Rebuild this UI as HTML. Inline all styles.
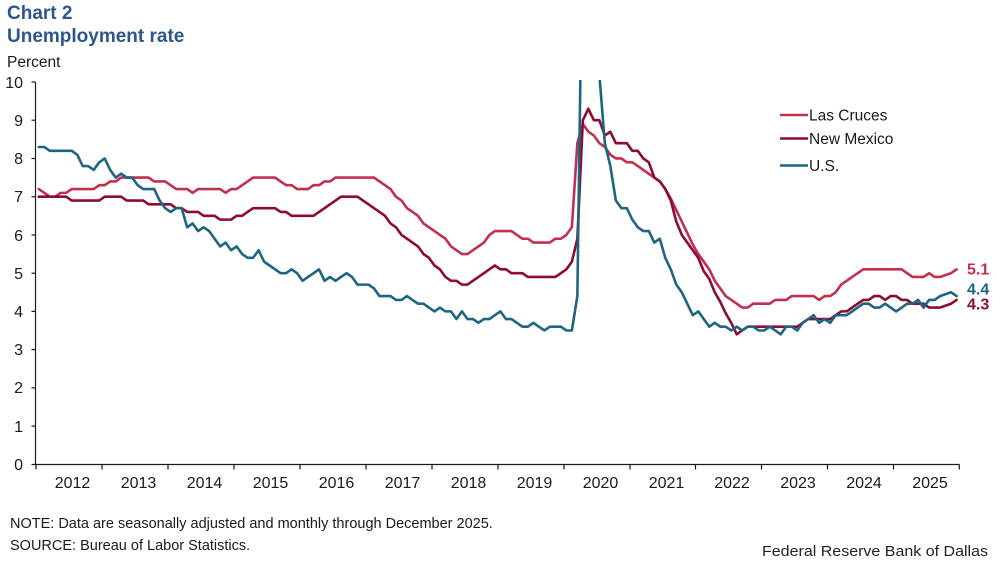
<!DOCTYPE html>
<html>
<head>
<meta charset="utf-8">
<style>
  html,body{margin:0;padding:0;background:#fff;}
  svg{display:block;}
  text{font-family:"Liberation Sans",Arial,sans-serif;}
</style>
</head>
<body>
<svg width="997" height="565" viewBox="0 0 997 565" xmlns="http://www.w3.org/2000/svg">
  <rect width="997" height="565" fill="#fff"/>
  <!-- Titles -->
  <text x="7" y="19" font-size="19" font-weight="bold" fill="#2d5789">Chart 2</text>
  <text x="7" y="42" font-size="19" font-weight="bold" fill="#2d5789">Unemployment rate</text>
  <text x="7" y="67" font-size="15.5" fill="#1a1a1a">Percent</text>

  <!-- Y axis labels -->
  <g font-size="16" fill="#1a1a1a" text-anchor="end">
    <text x="23" y="88">10</text>
    <text x="23" y="126">9</text>
    <text x="23" y="164">8</text>
    <text x="23" y="202">7</text>
    <text x="23" y="241">6</text>
    <text x="23" y="279">5</text>
    <text x="23" y="317">4</text>
    <text x="23" y="355">3</text>
    <text x="23" y="393">2</text>
    <text x="23" y="432">1</text>
    <text x="23" y="470">0</text>
  </g>

  <!-- Axes -->
  <g stroke="#1a1a1a" stroke-width="1.2" fill="none">
    <line x1="35.5" y1="82" x2="35.5" y2="464.5"/>
    <line x1="35.5" y1="464.5" x2="959.5" y2="464.5"/>
    <line x1="31.5" y1="82" x2="35.5" y2="82"/>
    <line x1="31.5" y1="120.2" x2="35.5" y2="120.2"/>
    <line x1="31.5" y1="158.5" x2="35.5" y2="158.5"/>
    <line x1="31.5" y1="196.7" x2="35.5" y2="196.7"/>
    <line x1="31.5" y1="235" x2="35.5" y2="235"/>
    <line x1="31.5" y1="273.2" x2="35.5" y2="273.2"/>
    <line x1="31.5" y1="311.4" x2="35.5" y2="311.4"/>
    <line x1="31.5" y1="349.6" x2="35.5" y2="349.6"/>
    <line x1="31.5" y1="387.8" x2="35.5" y2="387.8"/>
    <line x1="31.5" y1="426.1" x2="35.5" y2="426.1"/>
    <line x1="31.5" y1="464.5" x2="35.5" y2="464.5"/>
    <!-- x ticks -->
    <line x1="36" y1="464.5" x2="36" y2="469.5"/>
    <line x1="102" y1="464.5" x2="102" y2="469.5"/>
    <line x1="168" y1="464.5" x2="168" y2="469.5"/>
    <line x1="234" y1="464.5" x2="234" y2="469.5"/>
    <line x1="300" y1="464.5" x2="300" y2="469.5"/>
    <line x1="366" y1="464.5" x2="366" y2="469.5"/>
    <line x1="432" y1="464.5" x2="432" y2="469.5"/>
    <line x1="498" y1="464.5" x2="498" y2="469.5"/>
    <line x1="564" y1="464.5" x2="564" y2="469.5"/>
    <line x1="630" y1="464.5" x2="630" y2="469.5"/>
    <line x1="695.5" y1="464.5" x2="695.5" y2="469.5"/>
    <line x1="761.5" y1="464.5" x2="761.5" y2="469.5"/>
    <line x1="827.5" y1="464.5" x2="827.5" y2="469.5"/>
    <line x1="893.5" y1="464.5" x2="893.5" y2="469.5"/>
    <line x1="959.3" y1="464.5" x2="959.3" y2="469.5"/>
  </g>

  <!-- X labels -->
  <g font-size="16" fill="#1a1a1a" text-anchor="middle">
    <text x="72.5" y="488">2012</text>
    <text x="138.5" y="488">2013</text>
    <text x="204.5" y="488">2014</text>
    <text x="270.5" y="488">2015</text>
    <text x="336.5" y="488">2016</text>
    <text x="402.5" y="488">2017</text>
    <text x="468.5" y="488">2018</text>
    <text x="534.5" y="488">2019</text>
    <text x="600.5" y="488">2020</text>
    <text x="666.5" y="488">2021</text>
    <text x="732" y="488">2022</text>
    <text x="798" y="488">2023</text>
    <text x="864" y="488">2024</text>
    <text x="930" y="488">2025</text>
  </g>

  <defs>
    <clipPath id="plot">
      <rect x="30" y="80" width="940" height="390"/>
    </clipPath>
  </defs>

  <g clip-path="url(#plot)">
    <g transform="translate(36,464.3) scale(5.496,-38.23)" fill="none" stroke-linejoin="round" stroke-linecap="round">
      <!-- Las Cruces -->
      <polyline vector-effect="non-scaling-stroke" stroke="#c0304f" stroke-width="2.6" points="0.5,7.2 1.5,7.1 2.5,7 3.5,7 4.5,7.1 5.5,7.1 6.5,7.2 7.5,7.2 8.5,7.2 9.5,7.2 10.5,7.2 11.5,7.3 12.5,7.3 13.5,7.4 14.5,7.4 15.5,7.5 16.5,7.5 17.5,7.5 18.5,7.5 19.5,7.5 20.5,7.5 21.5,7.4 22.5,7.4 23.5,7.4 24.5,7.3 25.5,7.2 26.5,7.2 27.5,7.2 28.5,7.1 29.5,7.2 30.5,7.2 31.5,7.2 32.5,7.2 33.5,7.2 34.5,7.1 35.5,7.2 36.5,7.2 37.5,7.3 38.5,7.4 39.5,7.5 40.5,7.5 41.5,7.5 42.5,7.5 43.5,7.5 44.5,7.4 45.5,7.3 46.5,7.3 47.5,7.2 48.5,7.2 49.5,7.2 50.5,7.3 51.5,7.3 52.5,7.4 53.5,7.4 54.5,7.5 55.5,7.5 56.5,7.5 57.5,7.5 58.5,7.5 59.5,7.5 60.5,7.5 61.5,7.5 62.5,7.4 63.5,7.3 64.5,7.2 65.5,7 66.5,6.9 67.5,6.7 68.5,6.6 69.5,6.5 70.5,6.3 71.5,6.2 72.5,6.1 73.5,6 74.5,5.9 75.5,5.7 76.5,5.6 77.5,5.5 78.5,5.5 79.5,5.6 80.5,5.7 81.5,5.8 82.5,6 83.5,6.1 84.5,6.1 85.5,6.1 86.5,6.1 87.5,6 88.5,5.9 89.5,5.9 90.5,5.8 91.5,5.8 92.5,5.8 93.5,5.8 94.5,5.9 95.5,5.9 96.5,6 97.5,6.2 98.5,8.4 99.5,8.9 100.5,8.7 101.5,8.6 102.5,8.4 103.5,8.3 104.5,8.1 105.5,8 106.5,8 107.5,7.9 108.5,7.9 109.5,7.8 110.5,7.7 111.5,7.6 112.5,7.5 113.5,7.4 114.5,7.2 115.5,6.95 116.5,6.65 117.5,6.35 118.5,6.05 119.5,5.75 120.5,5.5 121.5,5.3 122.5,5.1 123.5,4.8 124.5,4.6 125.5,4.4 126.5,4.3 127.5,4.2 128.5,4.1 129.5,4.1 130.5,4.2 131.5,4.2 132.5,4.2 133.5,4.2 134.5,4.3 135.5,4.3 136.5,4.3 137.5,4.4 138.5,4.4 139.5,4.4 140.5,4.4 141.5,4.4 142.5,4.3 143.5,4.4 144.5,4.4 145.5,4.5 146.5,4.7 147.5,4.8 148.5,4.9 149.5,5 150.5,5.1 151.5,5.1 152.5,5.1 153.5,5.1 154.5,5.1 155.5,5.1 156.5,5.1 157.5,5.1 158.5,5 159.5,4.9 160.5,4.9 161.5,4.9 162.5,5 163.5,4.9 164.5,4.9 165.5,4.95 166.5,5 167.5,5.1"/>
      <!-- New Mexico -->
      <polyline vector-effect="non-scaling-stroke" stroke="#8b0d36" stroke-width="2.6" points="0.5,7 1.5,7 2.5,7 3.5,7 4.5,7 5.5,7 6.5,6.9 7.5,6.9 8.5,6.9 9.5,6.9 10.5,6.9 11.5,6.9 12.5,7 13.5,7 14.5,7 15.5,7 16.5,6.9 17.5,6.9 18.5,6.9 19.5,6.9 20.5,6.8 21.5,6.8 22.5,6.8 23.5,6.8 24.5,6.8 25.5,6.7 26.5,6.7 27.5,6.6 28.5,6.6 29.5,6.6 30.5,6.5 31.5,6.5 32.5,6.5 33.5,6.4 34.5,6.4 35.5,6.4 36.5,6.5 37.5,6.5 38.5,6.6 39.5,6.7 40.5,6.7 41.5,6.7 42.5,6.7 43.5,6.7 44.5,6.6 45.5,6.6 46.5,6.5 47.5,6.5 48.5,6.5 49.5,6.5 50.5,6.5 51.5,6.6 52.5,6.7 53.5,6.8 54.5,6.9 55.5,7 56.5,7 57.5,7 58.5,7 59.5,6.9 60.5,6.8 61.5,6.7 62.5,6.6 63.5,6.5 64.5,6.3 65.5,6.2 66.5,6 67.5,5.9 68.5,5.8 69.5,5.7 70.5,5.5 71.5,5.4 72.5,5.2 73.5,5.1 74.5,4.9 75.5,4.8 76.5,4.8 77.5,4.7 78.5,4.7 79.5,4.8 80.5,4.9 81.5,5 82.5,5.1 83.5,5.2 84.5,5.1 85.5,5.1 86.5,5 87.5,5 88.5,5 89.5,4.9 90.5,4.9 91.5,4.9 92.5,4.9 93.5,4.9 94.5,4.9 95.5,5 96.5,5.1 97.5,5.3 98.5,5.9 99.5,9 100.5,9.3 101.5,9 102.5,9 103.5,8.6 104.5,8.7 105.5,8.4 106.5,8.4 107.5,8.4 108.5,8.2 109.5,8.2 110.5,8 111.5,7.9 112.5,7.5 113.5,7.4 114.5,7.2 115.5,6.9 116.5,6.35 117.5,6 118.5,5.8 119.5,5.6 120.5,5.4 121.5,5.05 122.5,4.85 123.5,4.5 124.5,4.25 125.5,3.95 126.5,3.7 127.5,3.4 128.5,3.5 129.5,3.6 130.5,3.6 131.5,3.6 132.5,3.6 133.5,3.6 134.5,3.6 135.5,3.6 136.5,3.6 137.5,3.6 138.5,3.6 139.5,3.7 140.5,3.8 141.5,3.8 142.5,3.8 143.5,3.8 144.5,3.8 145.5,3.9 146.5,4 147.5,4 148.5,4.1 149.5,4.2 150.5,4.3 151.5,4.3 152.5,4.4 153.5,4.4 154.5,4.3 155.5,4.4 156.5,4.4 157.5,4.3 158.5,4.3 159.5,4.2 160.5,4.2 161.5,4.2 162.5,4.1 163.5,4.1 164.5,4.1 165.5,4.15 166.5,4.2 167.5,4.3"/>
      <!-- U.S. -->
      <polyline vector-effect="non-scaling-stroke" stroke="#1d6580" stroke-width="2.6" points="0.5,8.3 1.5,8.3 2.5,8.2 3.5,8.2 4.5,8.2 5.5,8.2 6.5,8.2 7.5,8.1 8.5,7.8 9.5,7.8 10.5,7.7 11.5,7.9 12.5,8 13.5,7.7 14.5,7.5 15.5,7.6 16.5,7.5 17.5,7.5 18.5,7.3 19.5,7.2 20.5,7.2 21.5,7.2 22.5,6.9 23.5,6.7 24.5,6.6 25.5,6.7 26.5,6.7 27.5,6.2 28.5,6.3 29.5,6.1 30.5,6.2 31.5,6.1 32.5,5.9 33.5,5.7 34.5,5.8 35.5,5.6 36.5,5.7 37.5,5.5 38.5,5.4 39.5,5.4 40.5,5.6 41.5,5.3 42.5,5.2 43.5,5.1 44.5,5 45.5,5 46.5,5.1 47.5,5 48.5,4.8 49.5,4.9 50.5,5 51.5,5.1 52.5,4.8 53.5,4.9 54.5,4.8 55.5,4.9 56.5,5 57.5,4.9 58.5,4.7 59.5,4.7 60.5,4.7 61.5,4.6 62.5,4.4 63.5,4.4 64.5,4.4 65.5,4.3 66.5,4.3 67.5,4.4 68.5,4.3 69.5,4.2 70.5,4.2 71.5,4.1 72.5,4 73.5,4.1 74.5,4 75.5,4 76.5,3.8 77.5,4 78.5,3.8 79.5,3.8 80.5,3.7 81.5,3.8 82.5,3.8 83.5,3.9 84.5,4 85.5,3.8 86.5,3.8 87.5,3.7 88.5,3.6 89.5,3.6 90.5,3.7 91.5,3.6 92.5,3.5 93.5,3.6 94.5,3.6 95.5,3.6 96.5,3.5 97.5,3.5 98.5,4.4 99.5,14.8 100.5,13.2 101.5,11 102.5,10.2 103.5,8.4 104.5,7.8 105.5,6.9 106.5,6.7 107.5,6.7 108.5,6.4 109.5,6.2 110.5,6.1 111.5,6.1 112.5,5.8 113.5,5.9 114.5,5.4 115.5,5.1 116.5,4.7 117.5,4.5 118.5,4.2 119.5,3.9 120.5,4 121.5,3.8 122.5,3.6 123.5,3.7 124.5,3.6 125.5,3.6 126.5,3.5 127.5,3.6 128.5,3.5 129.5,3.6 130.5,3.6 131.5,3.5 132.5,3.5 133.5,3.6 134.5,3.5 135.5,3.4 136.5,3.6 137.5,3.6 138.5,3.5 139.5,3.7 140.5,3.8 141.5,3.9 142.5,3.7 143.5,3.8 144.5,3.7 145.5,3.9 146.5,3.9 147.5,3.9 148.5,4 149.5,4.1 150.5,4.2 151.5,4.2 152.5,4.1 153.5,4.1 154.5,4.2 155.5,4.1 156.5,4 157.5,4.1 158.5,4.2 159.5,4.2 160.5,4.3 161.5,4.1 162.5,4.3 163.5,4.3 164.5,4.4 165.5,4.45 166.5,4.5 167.5,4.4"/>
    </g>
  </g>

  <!-- Legend -->
  <g stroke-width="2.6">
    <line x1="780" y1="115" x2="808" y2="115" stroke="#c0304f"/>
    <line x1="780" y1="138.5" x2="808" y2="138.5" stroke="#8b0d36"/>
    <line x1="780" y1="165.5" x2="808" y2="165.5" stroke="#1d6580"/>
  </g>
  <g font-size="15.5" fill="#1a1a1a">
    <text x="809" y="120.5">Las Cruces</text>
    <text x="809" y="144">New Mexico</text>
    <text x="809" y="171">U.S.</text>
  </g>

  <!-- End labels -->
  <g font-size="16" font-weight="bold">
    <text x="967" y="274.5" fill="#c0304f">5.1</text>
    <text x="967" y="294.5" fill="#1d6580">4.4</text>
    <text x="967" y="309.5" fill="#8b0d36">4.3</text>
  </g>

  <!-- Notes -->
  <g font-size="14.5" fill="#1a1a1a">
    <text x="10" y="528">NOTE: Data are seasonally adjusted and monthly through December 2025.</text>
    <text x="10" y="550">SOURCE: Bureau of Labor Statistics.</text>
  </g>
  <text x="988" y="556" font-size="15" fill="#222" text-anchor="end" textLength="226" lengthAdjust="spacingAndGlyphs">Federal Reserve Bank of Dallas</text>
</svg>
</body>
</html>
